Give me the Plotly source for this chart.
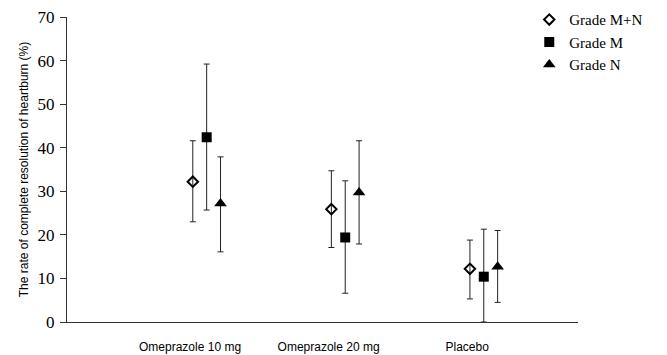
import plotly.graph_objects as go

categories = ["Omeprazole 10 mg", "Omeprazole 20 mg", "Placebo"]
series_names = ["Grade M+N", "Grade M", "Grade N"]

mn_val = [32.2, 25.9, 12.2]
mn_hi = [41.6, 34.7, 18.8]
mn_lo = [23.0, 17.1, 5.3]

m_val = [42.4, 19.4, 10.4]
m_hi = [59.2, 32.4, 21.3]
m_lo = [25.7, 6.6, 0.0]

n_val = [27.2, 29.7, 12.7]
n_hi = [37.9, 41.6, 21.0]
n_lo = [16.1, 17.9, 4.5]

y_ticks = [0, 10, 20, 30, 40, 50, 60, 70]

offsets = [0.02, 0.12, 0.22]
symbols = ["diamond-open", "square", "triangle-up"]
sizes = [8, 10, 11]
vals = [mn_val, m_val, n_val]
his = [mn_hi, m_hi, n_hi]
los = [mn_lo, m_lo, n_lo]

fig = go.Figure()
for name, off, sym, sz, v, hi, lo in zip(series_names, offsets, symbols, sizes, vals, his, los):
    xs = [i + off for i in range(len(categories))]
    fig.add_trace(go.Scatter(
        x=xs, y=v, mode="markers", name=name,
        marker=dict(symbol=sym, size=sz, color="black",
                    line=dict(color="black", width=2 if sym == "diamond-open" else 0)),
        error_y=dict(type="data", symmetric=False,
                     array=[h - a for h, a in zip(hi, v)],
                     arrayminus=[a - l for a, l in zip(v, lo)],
                     color="#222", thickness=1, width=3),
    ))

# page body has an 8px margin, so the figure is sized to fit the remaining window
fig.update_layout(
    width=659, height=347,
    margin=dict(l=59, r=89, t=9, b=33, autoexpand=False),
    paper_bgcolor="white", plot_bgcolor="white",
    showlegend=True,
    legend=dict(xref="container", yref="paper", x=0.791, y=1.045,
                xanchor="left", yanchor="top",
                font=dict(family="Liberation Serif", size=15, color="black"),
                bgcolor="rgba(0,0,0,0)", tracegroupgap=0, itemsizing="trace"),
    xaxis=dict(range=[-0.888, 2.80], tickvals=[0, 1, 2], ticktext=categories,
               showgrid=False, zeroline=False, showline=True, linecolor="#333", linewidth=1,
               ticks="", tickfont=dict(family="Liberation Sans", size=12, color="black"),
               ticklabelstandoff=14, ticklabeloverflow="allow"),
    yaxis=dict(range=[0, 70], tickvals=y_ticks, showgrid=False, zeroline=False,
               showline=True, linecolor="#333", linewidth=1,
               ticks="outside", ticklen=6, tickcolor="#333",
               tickfont=dict(family="Liberation Serif", size=17, color="black"),
               ticklabelstandoff=2, ticklabeloverflow="allow",
               title=dict(text="The rate of complete resolution of heartburn (%)",
                          font=dict(family="Liberation Sans", size=12, color="black"),
                          standoff=6)),
)

fig.write_html("out.html")
